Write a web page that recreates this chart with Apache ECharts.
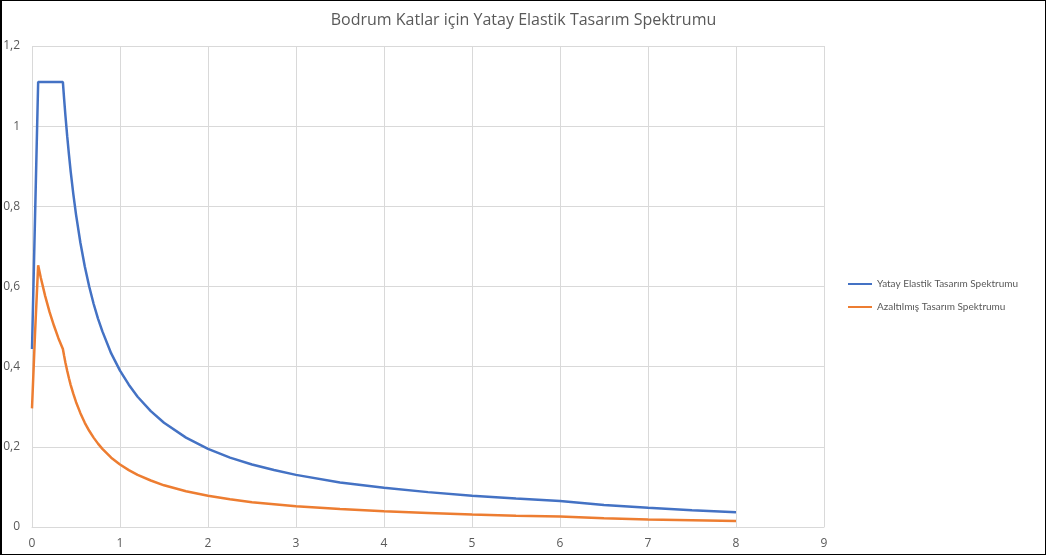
<!DOCTYPE html>
<html>
<head>
<meta charset="utf-8">
<script src="https://cdn.jsdelivr.net/npm/echarts@6/dist/echarts.min.js"></script>
<style>
  html, body { margin: 0; padding: 0; background: #fff; }
  #chart { position: absolute; left: 0; top: 0; width: 1047px; height: 557px; }
  #frame { position: absolute; left: 0; top: 0; width: 1043px; height: 553px; border: 1px solid #000; border-left-width: 2px; pointer-events: none; }
</style>
</head>
<body>
<div id="chart"></div>
<div id="frame"></div>
<script>
const titleText = 'Bodrum Katlar için Yatay Elastik Tasarım Spektrumu';
const seriesNames = ['Yatay Elastik Tasarım Spektrumu', 'Azaltılmış Tasarım Spektrumu'];
const periods = [0, 0.035, 0.07, 0.1, 0.15, 0.2, 0.25, 0.3, 0.351, 0.365, 0.38, 0.4, 0.42, 0.44, 0.47, 0.5, 0.55, 0.6, 0.65, 0.7, 0.75, 0.8, 0.9, 1.0, 1.1, 1.2, 1.35, 1.5, 1.75, 2, 2.25, 2.5, 2.75, 3, 3.5, 4, 4.5, 5, 5.5, 6, 6.5, 7, 7.5, 8];
const elasticValues = [0.444, 0.777, 1.11, 1.11, 1.11, 1.11, 1.11, 1.11, 1.11, 1.068, 1.026, 0.975, 0.929, 0.886, 0.83, 0.78, 0.709, 0.65, 0.6, 0.557, 0.52, 0.488, 0.433, 0.39, 0.355, 0.325, 0.289, 0.26, 0.223, 0.195, 0.173, 0.156, 0.142, 0.13, 0.111, 0.098, 0.087, 0.078, 0.071, 0.065, 0.055, 0.048, 0.042, 0.037];
const reducedValues = [0.296, 0.486, 0.653, 0.622, 0.576, 0.536, 0.502, 0.471, 0.444, 0.427, 0.41, 0.39, 0.371, 0.354, 0.332, 0.312, 0.284, 0.26, 0.24, 0.223, 0.208, 0.195, 0.173, 0.156, 0.142, 0.13, 0.116, 0.104, 0.089, 0.078, 0.069, 0.062, 0.057, 0.052, 0.045, 0.039, 0.035, 0.031, 0.028, 0.026, 0.022, 0.019, 0.017, 0.015];

const pair = (xs, ys) => xs.map((x, i) => [x, ys[i]]);
const fontFam = '"Open Sans", "Noto Sans", sans-serif';
const chart = echarts.init(document.getElementById('chart'), null, { renderer: 'canvas' });
chart.setOption({
  animation: false,
  backgroundColor: '#ffffff',
  title: {
    text: titleText,
    left: 'center',
    top: 7,
    textStyle: { fontFamily: fontFam, fontSize: 16, fontWeight: 'normal', color: '#595959' }
  },
  legend: {
    orient: 'vertical',
    left: 848,
    top: 279,
    padding: 0,
    itemWidth: 24,
    itemHeight: 2,
    itemGap: 13,
    icon: 'rect',
    textStyle: { fontFamily: 'Lato, "Open Sans", sans-serif', fontSize: 10, color: '#595959' },
    data: seriesNames
  },
  grid: { left: 32, top: 46, width: 792, height: 481, containLabel: false },
  xAxis: {
    type: 'value', min: 0, max: 9, interval: 1,
    axisLine: { show: true, lineStyle: { color: '#d9d9d9', width: 1 } },
    axisTick: { show: false },
    splitLine: { show: true, lineStyle: { color: '#d9d9d9', width: 1 } },
    axisLabel: { color: '#595959', fontFamily: fontFam, fontSize: 12, margin: 11 }
  },
  yAxis: {
    type: 'value', min: 0, max: 1.2, interval: 0.2,
    axisLine: { show: false },
    axisTick: { show: false },
    splitLine: { show: true, lineStyle: { color: '#d9d9d9', width: 1 } },
    axisLabel: {
      color: '#595959', fontFamily: fontFam, fontSize: 12, margin: 12,
      formatter: v => String(Math.round(v * 10) / 10).replace('.', ',')
    }
  },
  series: [
    {
      name: seriesNames[0], type: 'line', showSymbol: false, symbol: 'none',
      lineStyle: { color: '#4472C4', width: 2.5 }, itemStyle: { color: '#4472C4' },
      data: pair(periods, elasticValues)
    },
    {
      name: seriesNames[1], type: 'line', showSymbol: false, symbol: 'none',
      lineStyle: { color: '#ED7D31', width: 2.5 }, itemStyle: { color: '#ED7D31' },
      data: pair(periods, reducedValues)
    }
  ]
});
</script>
</body>
</html>
